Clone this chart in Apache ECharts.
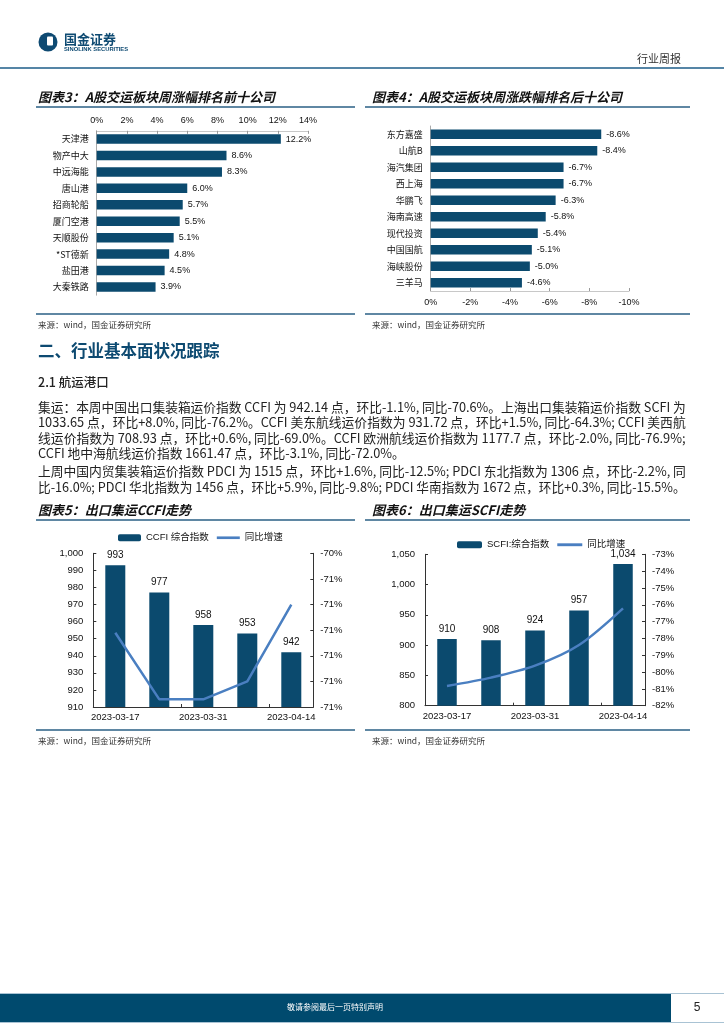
<!DOCTYPE html>
<html><head><meta charset="utf-8">
<script src="https://cdn.jsdelivr.net/npm/echarts/dist/echarts.min.js"></script>
<style>html,body{margin:0;padding:0;background:#fff;}#c{width:724px;height:1024px;}</style>
</head><body><div id="c"></div>
<script>
// ---------- data ----------
const topNames = ['天津港','物产中大','中远海能','唐山港','招商轮船','厦门空港','天顺股份','*ST德新','盐田港','大秦铁路'];
const topValues = [12.2, 8.6, 8.3, 6.0, 5.7, 5.5, 5.1, 4.8, 4.5, 3.9];
const bottomNames = ['东方嘉盛','山航B','海汽集团','西上海','华鹏飞','海南高速','现代投资','中国国航','海峡股份','三羊马'];
const bottomValues = [-8.6, -8.4, -6.7, -6.7, -6.3, -5.8, -5.4, -5.1, -5.0, -4.6];
const weeks = ['2023-03-17','2023-03-24','2023-03-31','2023-04-07','2023-04-14'];
const ccfiIndex = [993, 977, 958, 953, 942];
const ccfiYoy = [-70.71, -70.97, -70.97, -70.90, -70.60];
const ccfiRightTicks = ['-71%','-71%','-71%','-71%','-71%','-71%','-70%'];
const scfiIndex = [910, 908, 924, 957, 1034];
const scfiYoy = [-80.83, -80.33, -79.62, -78.39, -76.21];
const scfiRightTicks = ['-82%','-81%','-80%','-79%','-78%','-77%','-76%','-75%','-74%','-73%'];
const para1 = [
 '集运：本周中国出口集装箱运价指数 CCFI 为 942.14 点，环比-1.1%, 同比-70.6%。上海出口集装箱运价指数 SCFI 为',
 '1033.65 点，环比+8.0%, 同比-76.2%。CCFI 美东航线运价指数为 931.72 点，环比+1.5%, 同比-64.3%; CCFI 美西航',
 '线运价指数为 708.93 点，环比+0.6%, 同比-69.0%。CCFI 欧洲航线运价指数为 1177.7 点，环比-2.0%, 同比-76.9%;',
 'CCFI 地中海航线运价指数 1661.47 点，环比-3.1%, 同比-72.0%。'
];
const para2 = [
 '上周中国内贸集装箱运价指数 PDCI 为 1515 点，环比+1.6%, 同比-12.5%; PDCI 东北指数为 1306 点，环比-2.2%, 同',
 '比-16.0%; PDCI 华北指数为 1456 点，环比+5.9%, 同比-9.8%; PDCI 华南指数为 1672 点，环比+0.3%, 同比-15.5%。'
];

// ---------- styles ----------
const NAVY = '#0b4a6e';
const LINEC = '#4a7fc1';
const RULE = '#2a5f85';
const FF = "'Liberation Sans','Noto Sans CJK SC',sans-serif";
const CJK = "'Noto Sans CJK SC',sans-serif";

function T(x, y, text, font, fill, align) {
  return {type:'text', x:x, y:y, z:10, style:{text:text, font:font, fill:fill||'#222', align:align||'left', verticalAlign:'middle'}};
}
function L(x1, y1, x2, y2, stroke, w) {
  return {type:'line', z:5, shape:{x1:x1,y1:y1,x2:x2,y2:y2}, style:{stroke:stroke, lineWidth:w||1}};
}
// fit justified lines to the text column width
const measureCtx = document.createElement('canvas').getContext('2d');
function fitSize(s, target) {
  measureCtx.font = '12px ' + CJK;
  const w = measureCtx.measureText(s).width;
  return Math.max(11.5, Math.min(13.2, 12 * target / w));
}
const COLW = 648;

const graphics = [
  // header
  {type:'circle', z:5, shape:{cx:48, cy:42, r:9.5}, style:{fill:'#0e4a72'}},
  {type:'rect', z:6, shape:{x:47, y:36.5, width:6, height:9, r:1}, style:{fill:'#fff'}},
  T(64, 39.5, '国金证券', 'bold 13px ' + CJK, '#0e4a72'),
  T(64, 49.5, 'SINOLINK SECURITIES', 'bold 5.8px ' + FF, '#0e4a72'),
  T(681, 59, '行业周报', '11px ' + CJK, '#333', 'right'),
  L(0, 68, 724, 68, '#5585a6', 2),
  // chart titles row 1
  T(38, 97, '图表3：A股交运板块周涨幅排名前十公司', 'italic bold 13px ' + CJK, '#111'),
  T(372, 97, '图表4：A股交运板块周涨跌幅排名后十公司', 'italic bold 13px ' + CJK, '#111'),
  L(36, 107, 355, 107, RULE, 1.5),
  L(365, 107, 690, 107, RULE, 1.5),
  L(36, 314, 355, 314, RULE, 1.5),
  L(365, 314, 690, 314, RULE, 1.5),
  T(38, 325, '来源：wind，国金证券研究所', '8.5px ' + CJK, '#333'),
  T(372, 325, '来源：wind，国金证券研究所', '8.5px ' + CJK, '#333'),
  // section
  T(38, 351, '二、行业基本面状况跟踪', 'bold 16.5px ' + CJK, '#0d4a71'),
  T(38, 382, '2.1 航运港口', '500 12.5px ' + CJK, '#222'),
  // chart titles row 2
  T(38, 510, '图表5：出口集运CCFI走势', 'italic bold 13px ' + CJK, '#111'),
  T(372, 510, '图表6：出口集运SCFI走势', 'italic bold 13px ' + CJK, '#111'),
  L(36, 520, 355, 520, RULE, 1.5),
  L(365, 520, 690, 520, RULE, 1.5),
  L(36, 730, 355, 730, RULE, 1.5),
  L(365, 730, 690, 730, RULE, 1.5),
  T(38, 741, '来源：wind，国金证券研究所', '8.5px ' + CJK, '#333'),
  T(372, 741, '来源：wind，国金证券研究所', '8.5px ' + CJK, '#333'),
  // footer
  L(0, 993.5, 724, 993.5, '#a9c3d4', 1),
  {type:'rect', z:4, shape:{x:0, y:994, width:671, height:28}, style:{fill:'#004a6e'}},
  L(0, 1022.5, 724, 1022.5, '#a9c3d4', 1),
  T(335, 1007, '敬请参阅最后一页特别声明', '8px ' + CJK, '#fff', 'center'),
  T(697, 1008, '5', '12px ' + FF, '#222', 'center')
];
const p1y = [407, 422.5, 438, 453.5];
const s1 = [fitSize(para1[0], COLW), fitSize(para1[1], COLW), fitSize(para1[2], COLW)];
const avg1 = (s1[0] + s1[1] + s1[2]) / 3;
para1.forEach((s, i) => graphics.push(T(38, p1y[i], s, (i < 3 ? s1[i] : avg1).toFixed(2) + 'px ' + CJK, '#222')));
const p2y = [471.5, 487];
para2.forEach((s, i) => graphics.push(T(38, p2y[i], s, fitSize(s, COLW).toFixed(2) + 'px ' + CJK, '#222')));

const axisLbl = (size) => ({fontSize:size, color:'#111', fontFamily:FF});
const noSplit = {show:false};
const lineIcon = 'path://M0,0 L26,0 L26,3 L0,3 Z';

const option = {
  backgroundColor:'#fff',
  animation:false,
  textStyle:{fontFamily:FF},
  graphic: graphics,
  legend: [
    {left:113, top:528, itemWidth:23, itemHeight:7, itemGap:8,
     data:['CCFI 综合指数', {name:'同比增速', icon:lineIcon}],
     textStyle:{fontSize:9.5, color:'#111', fontFamily:FF}, selectedMode:false},
    {left:452, top:535, itemWidth:25, itemHeight:7, itemGap:8,
     data:['SCFI:综合指数', {name:'同比增速', icon:lineIcon}],
     textStyle:{fontSize:9.5, color:'#111', fontFamily:FF}, selectedMode:false}
  ],
  grid: [
    {left:96.7, top:130.8, width:211.3, height:164.4, outerBoundsMode:'none', containLabel:false},
    {left:430.7, top:126, width:198.3, height:165, outerBoundsMode:'none', containLabel:false},
    {left:93.3, top:553.3, width:220, height:153.7, outerBoundsMode:'none', containLabel:false},
    {left:425, top:554.3, width:220, height:151.4, outerBoundsMode:'none', containLabel:false}
  ],
  xAxis: [
    {gridIndex:0, type:'value', position:'top', min:0, max:14, interval:2,
     axisLabel:Object.assign(axisLbl(9), {formatter:'{value}%', margin:6}),
     axisLine:{show:true, lineStyle:{color:'#c8c8c8'}}, axisTick:{show:true, inside:true, length:3, lineStyle:{color:'#999'}}, splitLine:noSplit},
    {gridIndex:1, type:'value', position:'bottom', min:-10, max:0, interval:2, inverse:true,
     axisLabel:Object.assign(axisLbl(9), {formatter:v => v + '%', margin:7}),
     axisLine:{show:true, lineStyle:{color:'#c8c8c8'}}, axisTick:{show:true, inside:true, length:3, lineStyle:{color:'#999'}}, splitLine:noSplit},
    {gridIndex:2, type:'category', data:weeks, boundaryGap:true,
     axisLabel:Object.assign(axisLbl(9.5), {interval:1, margin:6}),
     axisLine:{show:true, lineStyle:{color:'#333'}}, axisTick:{show:true, inside:true, length:3, lineStyle:{color:'#333'}}, splitLine:noSplit},
    {gridIndex:3, type:'category', data:weeks, boundaryGap:true,
     axisLabel:Object.assign(axisLbl(9.5), {interval:1, margin:6}),
     axisLine:{show:true, lineStyle:{color:'#333'}}, axisTick:{show:true, inside:true, length:3, lineStyle:{color:'#333'}}, splitLine:noSplit}
  ],
  yAxis: [
    {gridIndex:0, type:'category', data:topNames, inverse:true,
     axisLabel:Object.assign(axisLbl(9), {margin:8, fontFamily:CJK}),
     axisLine:{show:true, lineStyle:{color:'#aaa'}}, axisTick:{show:false}, splitLine:noSplit},
    {gridIndex:1, type:'category', data:bottomNames, inverse:true,
     axisLabel:Object.assign(axisLbl(9), {margin:8, fontFamily:CJK}),
     axisLine:{show:true, lineStyle:{color:'#aaa'}}, axisTick:{show:false}, splitLine:noSplit},
    {gridIndex:2, type:'value', position:'left', min:910, max:1000, interval:10,
     axisLabel:Object.assign(axisLbl(9.5), {margin:10, formatter:v => v.toLocaleString('en-US')}),
     axisLine:{show:true, lineStyle:{color:'#333'}}, axisTick:{show:true, inside:true, length:3, lineStyle:{color:'#333'}}, splitLine:noSplit},
    {gridIndex:2, type:'value', position:'right', min:-71, max:-70.4, interval:0.1,
     axisLabel:Object.assign(axisLbl(9.5), {margin:7, formatter:(v, i) => ccfiRightTicks[i]}),
     axisLine:{show:true, lineStyle:{color:'#333'}}, axisTick:{show:true, inside:true, length:3, lineStyle:{color:'#333'}}, splitLine:noSplit},
    {gridIndex:3, type:'value', position:'left', min:800, max:1050, interval:50,
     axisLabel:Object.assign(axisLbl(9.5), {margin:10, formatter:v => v.toLocaleString('en-US')}),
     axisLine:{show:true, lineStyle:{color:'#333'}}, axisTick:{show:true, inside:true, length:3, lineStyle:{color:'#333'}}, splitLine:noSplit},
    {gridIndex:3, type:'value', position:'right', min:-82, max:-73, interval:1,
     axisLabel:Object.assign(axisLbl(9.5), {margin:7, formatter:(v, i) => scfiRightTicks[i]}),
     axisLine:{show:true, lineStyle:{color:'#333'}}, axisTick:{show:true, inside:true, length:3, lineStyle:{color:'#333'}}, splitLine:noSplit}
  ],
  series: [
    {type:'bar', xAxisIndex:0, yAxisIndex:0, data:topValues, barWidth:9.5, itemStyle:{color:NAVY},
     label:{show:true, position:'right', distance:5, fontSize:9, color:'#111', fontFamily:FF, formatter:p => p.value.toFixed(1) + '%'}},
    {type:'bar', xAxisIndex:1, yAxisIndex:1, data:bottomValues, barWidth:9.5, itemStyle:{color:NAVY},
     label:{show:true, position:'right', distance:5, fontSize:9, color:'#111', fontFamily:FF, formatter:p => p.value.toFixed(1) + '%'}},
    {name:'CCFI 综合指数', type:'bar', xAxisIndex:2, yAxisIndex:2, data:ccfiIndex, barWidth:20, itemStyle:{color:NAVY},
     label:{show:true, position:'top', distance:5, fontSize:10, color:'#111', fontFamily:FF, formatter:p => p.value.toLocaleString('en-US')}},
    {name:'同比增速', type:'line', xAxisIndex:2, yAxisIndex:3, data:ccfiYoy, symbol:'none', smooth:false,
     lineStyle:{color:LINEC, width:2.5}, itemStyle:{color:LINEC}},
    {name:'SCFI:综合指数', type:'bar', xAxisIndex:3, yAxisIndex:4, data:scfiIndex, barWidth:19.5, itemStyle:{color:NAVY},
     label:{show:true, position:'top', distance:5, fontSize:10, color:'#111', fontFamily:FF, formatter:p => p.value.toLocaleString('en-US')}},
    {name:'同比增速', type:'line', xAxisIndex:3, yAxisIndex:5, data:scfiYoy, symbol:'none', smooth:0.3,
     lineStyle:{color:LINEC, width:2.5}, itemStyle:{color:LINEC}}
  ]
};
const chart = echarts.init(document.getElementById('c'), null, {renderer:'canvas'});
chart.setOption(option);
</script>
</body></html>
